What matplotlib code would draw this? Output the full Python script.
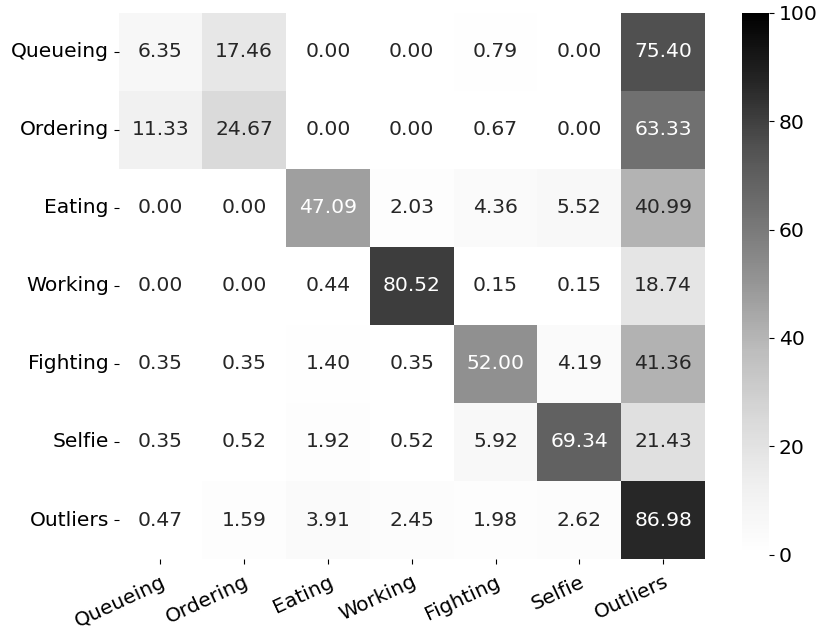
import matplotlib
matplotlib.use("Agg")
import matplotlib.pyplot as plt
import seaborn as sns
import numpy as np

labels = ["Queueing", "Ordering", "Eating", "Working", "Fighting", "Selfie", "Outliers"]
row_queueing = [6.35, 17.46, 0.00, 0.00, 0.79, 0.00, 75.40]
row_ordering = [11.33, 24.67, 0.00, 0.00, 0.67, 0.00, 63.33]
row_eating = [0.00, 0.00, 47.09, 2.03, 4.36, 5.52, 40.99]
row_working = [0.00, 0.00, 0.44, 80.52, 0.15, 0.15, 18.74]
row_fighting = [0.35, 0.35, 1.40, 0.35, 52.00, 4.19, 41.36]
row_selfie = [0.35, 0.52, 1.92, 0.52, 5.92, 69.34, 21.43]
row_outliers = [0.47, 1.59, 3.91, 2.45, 1.98, 2.62, 86.98]

data = np.array([row_queueing, row_ordering, row_eating, row_working,
                 row_fighting, row_selfie, row_outliers])

fs = 14.6
plt.rcParams['font.size'] = fs
fig = plt.figure(figsize=(8.3, 6.33), dpi=100)
ax = fig.add_axes([0.1428, 0.1169, 0.7066, 0.8626])
cax = fig.add_axes([0.894, 0.124, 0.0325, 0.8555])
sns.heatmap(data, ax=ax, cbar_ax=cax, cmap="Greys", vmin=0, vmax=100,
            annot=True, fmt=".2f", annot_kws={"fontsize": fs},
            xticklabels=labels, yticklabels=labels)
ax.tick_params(axis='both', labelsize=fs)
ax.tick_params(axis='x', pad=6)
plt.setp(ax.get_xticklabels(), rotation=25, ha='right', rotation_mode='anchor')
plt.setp(ax.get_yticklabels(), rotation=0)
cax.tick_params(labelsize=fs)
cax.set_yticks([0, 20, 40, 60, 80, 100])
fig.savefig("out.png", dpi=100)
